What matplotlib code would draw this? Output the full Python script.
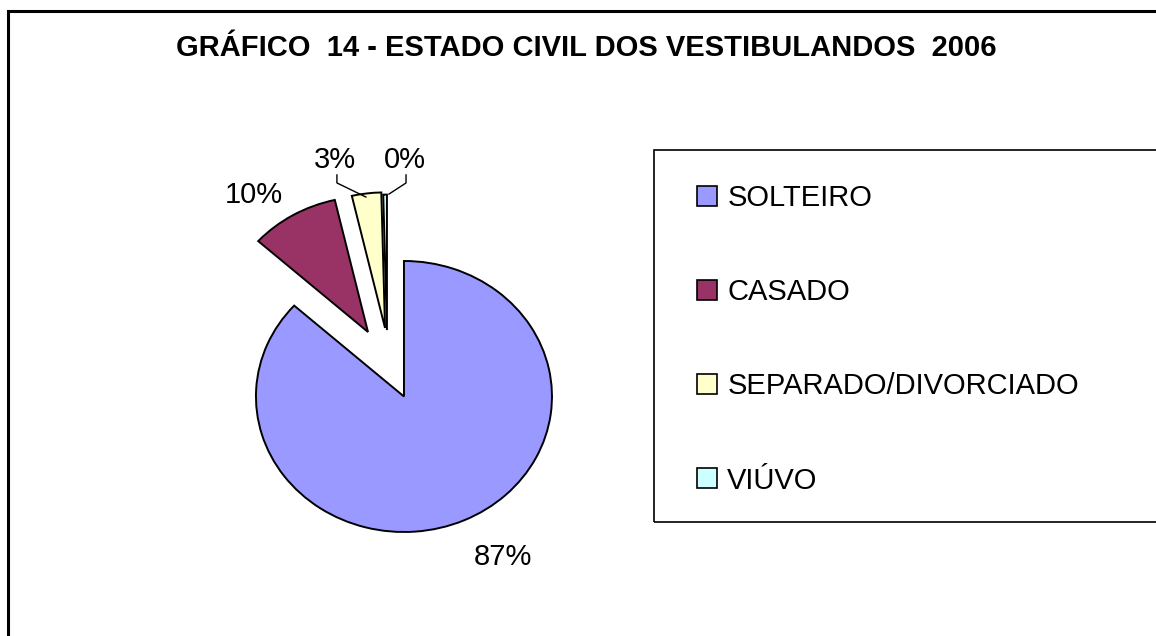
import matplotlib.pyplot as plt
from matplotlib.patches import Rectangle

plt.rcParams['font.family'] = ['Liberation Sans', 'DejaVu Sans']

categorias = ['SOLTEIRO', 'CASADO', 'SEPARADO/DIVORCIADO', 'VIÚVO']
percentuais = [86.7, 9.7, 3.2, 0.4]
cores = ['#9999FF', '#993366', '#FFFFCC', '#CCFFFF']
titulo = 'GRÁFICO  14 - ESTADO CIVIL DOS VESTIBULANDOS  2006'

W, H = 1156, 636
fig = plt.figure(figsize=(W / 100, H / 100), dpi=100)

# outer chart border (right/bottom fall outside the picture)
fig.patches.append(Rectangle((8 / W, 1 - 700 / H), 1300 / W, (700 - 11) / H,
                             transform=fig.transFigure, fill=False,
                             edgecolor='black', linewidth=2.2))

fig.text(586 / W, 1 - 48 / H, titulo, ha='center', va='center',
         fontsize=21, fontweight='bold')

# pie axes: radius 1 = 148 px wide, 135.5 px tall (stretched like in Excel)
ax = fig.add_axes([0.1830, 0.0570, 0.3329, 0.7457])
wedges, _, pcts = ax.pie(percentuais, colors=cores, startangle=90,
                         counterclock=False, explode=[0, 0.53, 0.53, 0.53],
                         autopct='%1.0f%%',
                         wedgeprops=dict(edgecolor='black', linewidth=1.4))
ax.set_aspect('auto')
ax.set_xlim(-1.3, 1.3)
ax.set_ylim(-1.5, 2.0)
ax.axis('off')

# Excel pulls the small slices out a bit more to the left than matplotlib does
centros = [(0, 0), (-0.243, 0.476), (-0.128, 0.506), (-0.115, 0.49)]
for w, c in zip(wedges, centros):
    w.set_center(c)

pos_rotulos = [(0.672, -1.244), (-1.014, 1.428), (-0.466, 1.686), (0.003, 1.686)]
for t, (x, y) in zip(pcts, pos_rotulos):
    t.set_position((x, y))
    t.set_ha('center')
    t.set_va('baseline')
    t.set_fontsize(21)

# leader lines for the small slices
ax.plot([-0.453, -0.453, -0.257], [1.635, 1.576, 1.472], color='black', lw=1, clip_on=False)
ax.plot([0.014, 0.014, -0.101], [1.635, 1.576, 1.494], color='black', lw=1, clip_on=False)

# legend box
fig.patches.append(Rectangle((654 / W, 1 - 522 / H), 600 / W, (522 - 150) / H,
                             transform=fig.transFigure, fill=False,
                             edgecolor='black', linewidth=1.2))
handles = [Rectangle((0, 0), 1, 1, facecolor=c, edgecolor='black', linewidth=1.2)
           for c in cores]
fig.legend(handles, categorias, loc='upper left',
           bbox_to_anchor=(697 / W, 1 - 184 / H), frameon=False, fontsize=21,
           handlelength=0.68, handleheight=0.68, handletextpad=0.36,
           labelspacing=2.27, borderpad=0, borderaxespad=0)

fig.savefig('out.png', dpi=100)
